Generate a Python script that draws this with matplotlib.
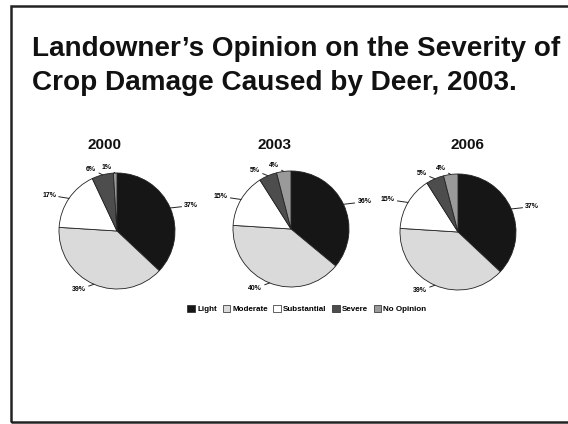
import numpy as np
import matplotlib.pyplot as plt
from matplotlib.patches import Rectangle

plt.rcParams["font.family"] = ["Liberation Sans", "DejaVu Sans"]

years = ["2000", "2003", "2006"]
categories = ["Light", "Moderate", "Substantial", "Severe", "No Opinion"]
pct_2000 = [37, 39, 17, 6, 1]
pct_2003 = [36, 40, 15, 5, 4]
pct_2006 = [37, 39, 15, 5, 4]
values = [pct_2000, pct_2003, pct_2006]
title_lines = ["Landowner\u2019s Opinion on the Severity of", "Crop Damage Caused by Deer, 2003."]

colors = ["#161616", "#dadada", "#ffffff", "#4d4d4d", "#9a9a9a"]

W, H = 568, 424
fig = plt.figure(figsize=(W / 100, H / 100), dpi=100)

# slide frame (left, top and bottom edges visible)
fig.patches.append(Rectangle((11 / W, 2 / H), 1.2, 1 - 8 / H, transform=fig.transFigure,
                             fill=False, lw=1.8, ec="#222222"))

for line, base in zip(title_lines, [56, 90]):
    fig.text(32 / W, 1 - base / H, line, fontsize=20.1, fontweight="bold",
             ha="left", va="baseline", color="#111111")

# pie centres and radius in pixels
centres = [(117, 231), (291, 229), (458, 232)]
radius = 58
year_x = [105, 275, 467]

for i, (cx, cy) in enumerate(centres):
    fig.text(year_x[i] / W, 1 - 145 / H, years[i], fontsize=11, fontweight="bold",
             ha="center", va="center", color="#111111")
    ax = fig.add_axes([(cx - radius) / W, 1 - (cy + radius) / H, 2 * radius / W, 2 * radius / H])
    wedges, _ = ax.pie(values[i], colors=colors, startangle=90, counterclock=False,
                       wedgeprops=dict(edgecolor="#222222", linewidth=0.6))
    for w, v in zip(wedges, values[i]):
        ang = np.deg2rad((w.theta1 + w.theta2) / 2)
        x0, y0 = np.cos(ang), np.sin(ang)
        ha = "left" if x0 >= 0 else "right"
        ax.annotate(f"{v}%", xy=(1.0 * x0, 1.0 * y0), xytext=(1.2 * x0 + 0.06 * np.sign(x0), 1.1 * y0),
                    fontsize=5, fontweight="bold", ha=ha, va="center",
                    arrowprops=dict(arrowstyle="-", lw=0.7, color="#222222", shrinkA=0, shrinkB=0),
                    annotation_clip=False)
    ax.set_xlim(-1, 1)
    ax.set_ylim(-1, 1)
    ax.set_aspect("equal")
    ax.axis("off")

handles = [Rectangle((0, 0), 1, 1, fc=c, ec="#222222", lw=0.5) for c in colors]
fig.legend(handles, categories, loc="center", bbox_to_anchor=(307 / W, 1 - 309 / H), ncol=5,
           frameon=False, prop=dict(size=5.8, weight="bold"), handlelength=0.9, handleheight=0.9,
           handletextpad=0.3, columnspacing=0.7)

fig.savefig("out.png", dpi=100)
